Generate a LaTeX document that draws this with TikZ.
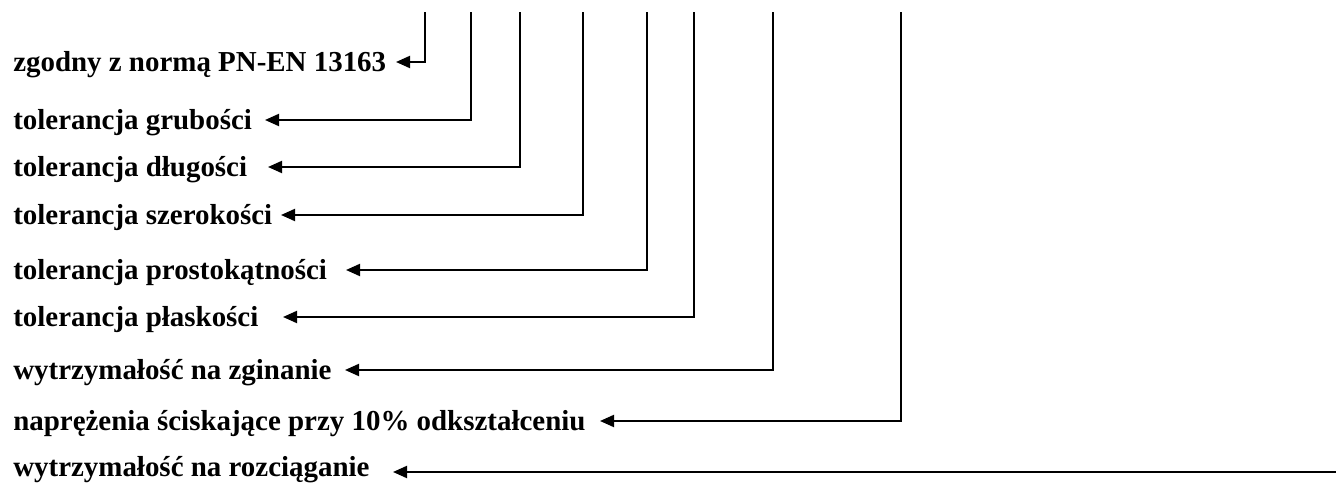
\documentclass[tikz,border=0pt]{standalone}
\usepackage{fontspec}
\setmainfont{Liberation Serif}
\usetikzlibrary{arrows.meta}
\begin{document}
\begin{tikzpicture}[x=0.75pt,y=-0.75pt,
  lbl/.style={anchor=base west,inner sep=0pt,font=\fontsize{21.7}{26}\selectfont\bfseries},
  lead/.style={line width=1.5pt,{Triangle[length=10.5pt,width=9pt]}-}]
\useasboundingbox (0,0) rectangle (1336,484);
% labels: leader height / baseline height / text
\foreach \n/\y/\b/\t in {
  a/62/72/{zgodny z normą PN-EN 13163},
  b/120/130/{tolerancja grubości},
  c/167/177/{tolerancja długości},
  d/215/225/{tolerancja szerokości},
  e/270/280/{tolerancja prostokątności},
  f/317/327/{tolerancja płaskości},
  g/370/380/{wytrzymałość na zginanie},
  h/421/431/{naprężenia ściskające przy 10\% odkształceniu},
  i/472/477/{wytrzymałość na rozciąganie}}
  \node[lbl] (\n) at (13,\b) {\t};
% arrow tips
\coordinate (ta) at (396,62);
\coordinate (tb) at (265,120);
\coordinate (tc) at (268,167);
\coordinate (td) at (281,215);
\coordinate (te) at (346,270);
\coordinate (tf) at (283,317);
\coordinate (tg) at (345,370);
\coordinate (th) at (600,421);
\coordinate (ti) at (393,472);
% upper ends of the leaders
\coordinate (ua) at (425,12);
\coordinate (ub) at (471,12);
\coordinate (uc) at (520,12);
\coordinate (ud) at (583,12);
\coordinate (ue) at (647,12);
\coordinate (uf) at (694,12);
\coordinate (ug) at (773,12);
\coordinate (uh) at (901,12);
\coordinate (ui) at (1336,472);
\foreach \n in {a,b,c,d,e,f,g,h}
  \draw[lead] (t\n) -| (u\n);
\draw[lead] (ti) -- (ui);
\end{tikzpicture}
\end{document}
